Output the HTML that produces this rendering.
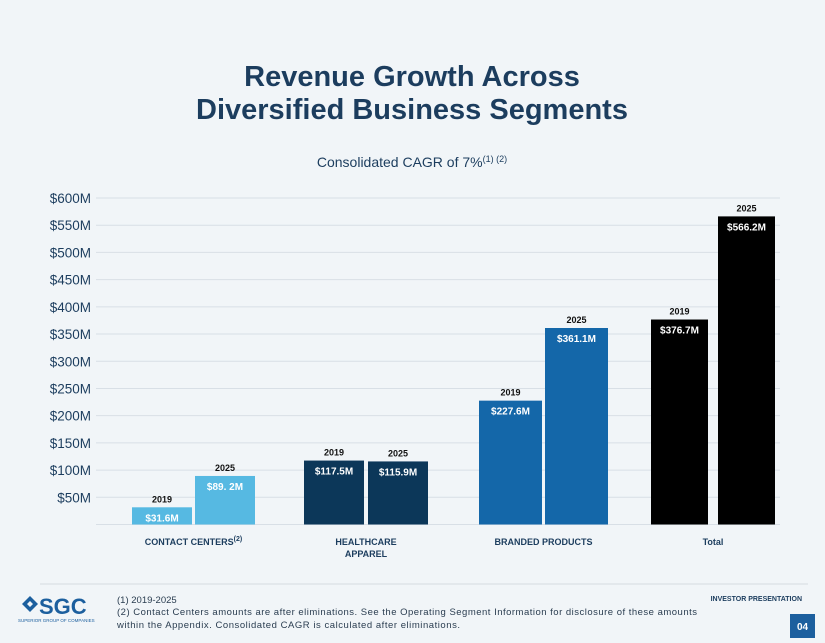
<!DOCTYPE html>
<html><head><meta charset="utf-8"><style>
html,body{margin:0;padding:0;background:#f1f5f8;}
body{width:825px;height:638px;overflow:hidden;position:relative;font-family:"Liberation Sans",sans-serif;}
</style></head><body>
<svg width="825" height="638" viewBox="0 0 825 638" xmlns="http://www.w3.org/2000/svg">
<rect x="0" y="0" width="825" height="638" fill="#f1f5f8"/>
<text x="412" y="86" text-anchor="middle" font-size="29" font-weight="bold" fill="#1c3d5e">Revenue Growth Across</text>
<text x="412" y="119" text-anchor="middle" font-size="29" font-weight="bold" fill="#1c3d5e">Diversified Business Segments</text>
<text x="412" y="167" text-anchor="middle" font-size="14" fill="#1c3d5e">Consolidated CAGR of 7%<tspan font-size="9" dy="-5">(1) (2)</tspan></text>
<g id="grid"></g><g id="bars"></g><g id="cats"></g>
<line x1="40" y1="584" x2="808" y2="584" stroke="#d5dbe0" stroke-width="1"/>
<g>
<path d="M22 604 L30 596 L38 604 L30 612 Z M27 604 L30 601 L33 604 L30 607 Z" fill="#1c5f9e" fill-rule="evenodd"/>
<text x="39" y="614" font-size="22" font-weight="bold" fill="#1c5f9e">SGC</text>
<text x="18" y="622" font-size="4.5" fill="#1c5f9e">SUPERIOR GROUP OF COMPANIES</text>
</g>
<text x="117" y="603" font-size="9.5" fill="#2a3d50">(1) 2019-2025</text>
<text x="117" y="615" font-size="9.5" fill="#2a3d50" textLength="580">(2) Contact Centers amounts are after eliminations. See the Operating Segment Information for disclosure of these amounts</text>
<text x="117" y="628" font-size="9.5" fill="#2a3d50" textLength="343">within the Appendix.  Consolidated CAGR is calculated after eliminations.</text>
<text x="802" y="601" text-anchor="end" font-size="7" font-weight="bold" fill="#1c3d5e">INVESTOR PRESENTATION</text>
<rect x="790" y="614" width="25" height="24" fill="#1c5f9e"/>
<text x="802.5" y="630" text-anchor="middle" font-size="10" font-weight="bold" fill="#fff">04</text>
</svg>
<script>
const categories=["CONTACT CENTERS","HEALTHCARE|APPAREL","BRANDED PRODUCTS","Total"];
const values2019=[31.6,117.5,227.6,376.7];
const values2025=[89.2,115.9,361.1,566.2];
const labels2019=["$31.6M","$117.5M","$227.6M","$376.7M"];
const labels2025=["$89. 2M","$115.9M","$361.1M","$566.2M"];
const ticks=[50,100,150,200,250,300,350,400,450,500,550,600];
const colors=["#56b9e2","#0c3759","#1467a9","#000000"];
const NS="http://www.w3.org/2000/svg";
const y0=524.5,pxPer=(524.5-198)/600;
const y=v=>y0-v*pxPer;
const groupX=[132,304,479,651],bw=[60,60,63,57],gap=[3,4,3,10];
function mk(tag,attrs,parent,txt){const e=document.createElementNS(NS,tag);for(const k in attrs)e.setAttribute(k,attrs[k]);if(txt!=null)e.textContent=txt;parent.appendChild(e);return e;}
const grid=document.getElementById('grid'),bars=document.getElementById('bars'),cats=document.getElementById('cats');
ticks.forEach(t=>{
  const l=mk('line',{x1:96,x2:780,y1:y(t),y2:y(t),stroke:'#d8dfe6','stroke-width':1},grid);
  
  
  const tx=mk('text',{x:91,y:y(t)+5,'text-anchor':'end','font-size':13.5,fill:'#1c3d5e'},grid,'$'+t+'M');
  
  
});
const base=mk('line',{x1:96,x2:780,y1:y0,y2:y0,stroke:'#d8dfe6','stroke-width':1},grid);
categories.forEach((c,i)=>{
  [[values2019[i],labels2019[i],'2019',0],[values2025[i],labels2025[i],'2025',1]].forEach(([v,lab,yr,k])=>{
    const x=groupX[i]+k*(bw[i]+gap[i]);
    const top=y(v);
    const r=mk('rect',{x:x,y:top,width:bw[i],height:y0-top,fill:colors[i]},bars);
    
    
    const t1=mk('text',{x:x+bw[i]/2,y:top+14,'text-anchor':'middle','font-size':10,'font-weight':'bold',fill:'#fff'},bars,lab);
    
    
    const t2=mk('text',{x:x+bw[i]/2,y:top-5,'text-anchor':'middle','font-size':9,'font-weight':'bold',fill:'#111'},bars,yr);
    
    
  });
  const cx=groupX[i]+bw[i]+gap[i]/2;
  const lines=c.split('|');
  lines.forEach((ln,j)=>{
    const t=mk('text',{x:cx,y:545+j*12,'text-anchor':'middle','font-size':9,'font-weight':'bold',fill:'#1c3d5e'},cats,ln);
    
    
    if(i===0){mk('tspan',{'font-size':7,dy:-4},t,'(2)');}
  });
});
</script>
</body></html>
